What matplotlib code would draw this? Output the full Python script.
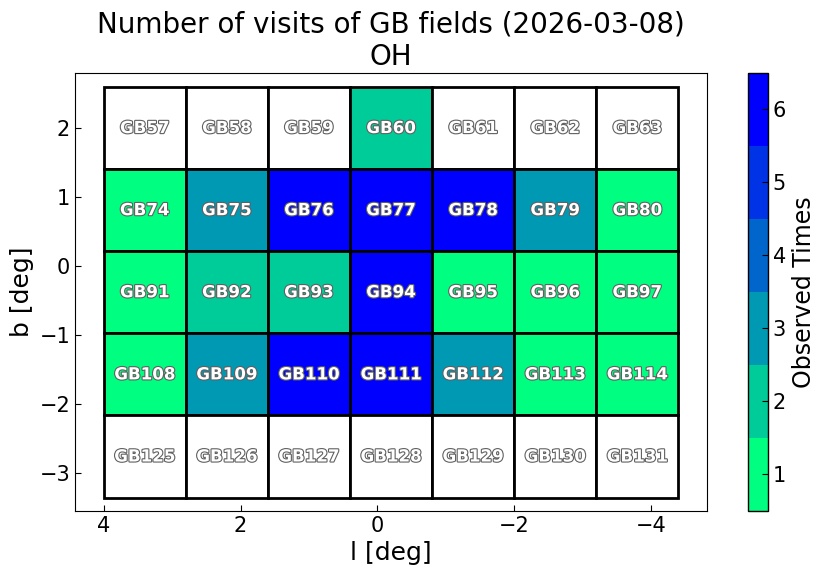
import matplotlib
matplotlib.use("Agg")
import matplotlib.pyplot as plt
import matplotlib.patheffects as pe
from matplotlib.patches import Rectangle
from matplotlib.colors import BoundaryNorm
import numpy as np

# Field layout (rows top to bottom, columns left (high l) to right (low l))
field_ids = [
    [57, 58, 59, 60, 61, 62, 63],
    [74, 75, 76, 77, 78, 79, 80],
    [91, 92, 93, 94, 95, 96, 97],
    [108, 109, 110, 111, 112, 113, 114],
    [125, 126, 127, 128, 129, 130, 131],
]
visits = [
    [0, 0, 0, 2, 0, 0, 0],
    [1, 3, 6, 6, 6, 3, 1],
    [1, 2, 2, 6, 1, 1, 1],
    [1, 3, 6, 6, 3, 1, 1],
    [0, 0, 0, 0, 0, 0, 0],
]
l_centers = [3.4, 2.2, 1.0, -0.2, -1.4, -2.6, -3.8]
b_centers = [2.0, 0.81, -0.38, -1.57, -2.76]
cell_w = 1.2
cell_h = 1.19

fig = plt.figure(figsize=(8.22, 5.75), dpi=100)
ax = fig.add_axes([0.0912, 0.1113, 0.769, 0.762])
cax = fig.add_axes([0.910, 0.1113, 0.0243, 0.762])

cmap = plt.get_cmap("winter_r", 6)
norm = BoundaryNorm(np.arange(0.5, 7.0, 1.0), cmap.N)

stroke = [pe.withStroke(linewidth=1.6, foreground="#606060")]
for i, b in enumerate(b_centers):
    for j, l in enumerate(l_centers):
        v = visits[i][j]
        fc = "white" if v == 0 else cmap(norm(v))
        ax.add_patch(Rectangle((l - cell_w / 2, b - cell_h / 2), cell_w, cell_h,
                               facecolor=fc, edgecolor="black", linewidth=2.0))
        ax.text(l, b, f"GB{field_ids[i][j]}", ha="center", va="center",
                fontsize=12, fontweight="bold", color="white", path_effects=stroke)

ax.set_xlim(4.42, -4.82)
ax.set_ylim(-3.55, 2.80)
ax.set_xticks([4, 2, 0, -2, -4])
ax.set_yticks([-3, -2, -1, 0, 1, 2])
ax.tick_params(direction="in", labelsize=15, length=4)
ax.set_xlabel("l [deg]", fontsize=18)
ax.set_ylabel("b [deg]", fontsize=18)
ax.set_title("Number of visits of GB fields (2026-03-08)\nOH", fontsize=20)

sm = matplotlib.cm.ScalarMappable(norm=norm, cmap=cmap)
cb = fig.colorbar(sm, cax=cax, ticks=[1, 2, 3, 4, 5, 6])
cb.ax.minorticks_off()
cb.ax.tick_params(direction="in", labelsize=15, length=4)
cb.set_label("Observed Times", fontsize=17)
cb.outline.set_linewidth(1.0)

fig.savefig("out.png", dpi=100)
